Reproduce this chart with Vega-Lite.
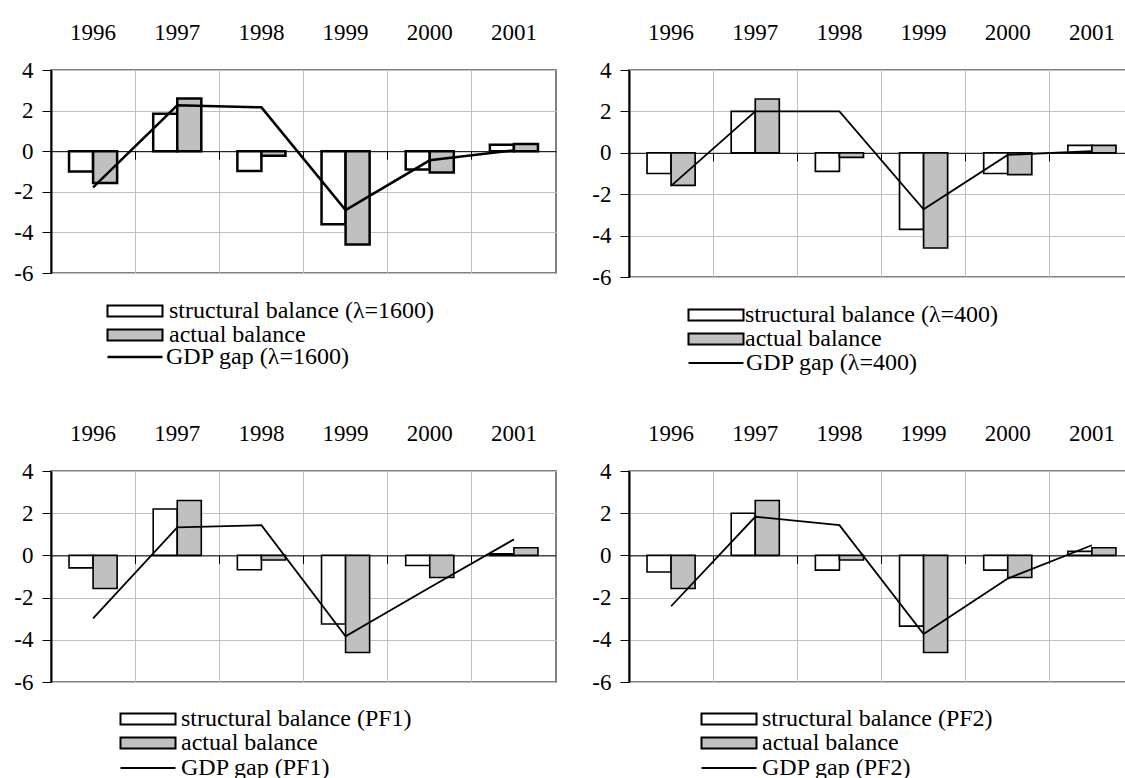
{
  "$schema": "https://vega.github.io/schema/vega-lite/v6.json",
  "padding": {"left": 12, "top": 20, "right": 0, "bottom": 0},
  "background": "white",
  "datasets": {
    "bars": [
      {"panel": "A", "year": "1996", "series": "structural balance (λ=1600)", "value": -1.0},
      {"panel": "A", "year": "1997", "series": "structural balance (λ=1600)", "value": 1.85},
      {"panel": "A", "year": "1998", "series": "structural balance (λ=1600)", "value": -0.98},
      {"panel": "A", "year": "1999", "series": "structural balance (λ=1600)", "value": -3.6},
      {"panel": "A", "year": "2000", "series": "structural balance (λ=1600)", "value": -0.9},
      {"panel": "A", "year": "2001", "series": "structural balance (λ=1600)", "value": 0.32},
      {"panel": "A", "year": "1996", "series": "actual balance", "value": -1.57},
      {"panel": "A", "year": "1997", "series": "actual balance", "value": 2.6},
      {"panel": "A", "year": "1998", "series": "actual balance", "value": -0.22},
      {"panel": "A", "year": "1999", "series": "actual balance", "value": -4.6},
      {"panel": "A", "year": "2000", "series": "actual balance", "value": -1.05},
      {"panel": "A", "year": "2001", "series": "actual balance", "value": 0.36},
      {"panel": "B", "year": "1996", "series": "structural balance (λ=400)", "value": -1.0},
      {"panel": "B", "year": "1997", "series": "structural balance (λ=400)", "value": 2.0},
      {"panel": "B", "year": "1998", "series": "structural balance (λ=400)", "value": -0.9},
      {"panel": "B", "year": "1999", "series": "structural balance (λ=400)", "value": -3.7},
      {"panel": "B", "year": "2000", "series": "structural balance (λ=400)", "value": -1.0},
      {"panel": "B", "year": "2001", "series": "structural balance (λ=400)", "value": 0.36},
      {"panel": "B", "year": "1996", "series": "actual balance", "value": -1.57},
      {"panel": "B", "year": "1997", "series": "actual balance", "value": 2.6},
      {"panel": "B", "year": "1998", "series": "actual balance", "value": -0.22},
      {"panel": "B", "year": "1999", "series": "actual balance", "value": -4.6},
      {"panel": "B", "year": "2000", "series": "actual balance", "value": -1.05},
      {"panel": "B", "year": "2001", "series": "actual balance", "value": 0.36},
      {"panel": "C", "year": "1996", "series": "structural balance (PF1)", "value": -0.59},
      {"panel": "C", "year": "1997", "series": "structural balance (PF1)", "value": 2.2},
      {"panel": "C", "year": "1998", "series": "structural balance (PF1)", "value": -0.68},
      {"panel": "C", "year": "1999", "series": "structural balance (PF1)", "value": -3.25},
      {"panel": "C", "year": "2000", "series": "structural balance (PF1)", "value": -0.48},
      {"panel": "C", "year": "2001", "series": "structural balance (PF1)", "value": 0.08},
      {"panel": "C", "year": "1996", "series": "actual balance", "value": -1.57},
      {"panel": "C", "year": "1997", "series": "actual balance", "value": 2.6},
      {"panel": "C", "year": "1998", "series": "actual balance", "value": -0.22},
      {"panel": "C", "year": "1999", "series": "actual balance", "value": -4.6},
      {"panel": "C", "year": "2000", "series": "actual balance", "value": -1.05},
      {"panel": "C", "year": "2001", "series": "actual balance", "value": 0.36},
      {"panel": "D", "year": "1996", "series": "structural balance (PF2)", "value": -0.79},
      {"panel": "D", "year": "1997", "series": "structural balance (PF2)", "value": 2.0},
      {"panel": "D", "year": "1998", "series": "structural balance (PF2)", "value": -0.7},
      {"panel": "D", "year": "1999", "series": "structural balance (PF2)", "value": -3.35},
      {"panel": "D", "year": "2000", "series": "structural balance (PF2)", "value": -0.7},
      {"panel": "D", "year": "2001", "series": "structural balance (PF2)", "value": 0.19},
      {"panel": "D", "year": "1996", "series": "actual balance", "value": -1.57},
      {"panel": "D", "year": "1997", "series": "actual balance", "value": 2.6},
      {"panel": "D", "year": "1998", "series": "actual balance", "value": -0.22},
      {"panel": "D", "year": "1999", "series": "actual balance", "value": -4.6},
      {"panel": "D", "year": "2000", "series": "actual balance", "value": -1.05},
      {"panel": "D", "year": "2001", "series": "actual balance", "value": 0.36}
    ],
    "gaps": [
      {"panel": "A", "year": "1996", "label": "GDP gap (λ=1600)", "gap": -1.78},
      {"panel": "A", "year": "1997", "label": "GDP gap (λ=1600)", "gap": 2.26},
      {"panel": "A", "year": "1998", "label": "GDP gap (λ=1600)", "gap": 2.16},
      {"panel": "A", "year": "1999", "label": "GDP gap (λ=1600)", "gap": -2.9},
      {"panel": "A", "year": "2000", "label": "GDP gap (λ=1600)", "gap": -0.45},
      {"panel": "A", "year": "2001", "label": "GDP gap (λ=1600)", "gap": 0.04},
      {"panel": "B", "year": "1996", "label": "GDP gap (λ=400)", "gap": -1.6},
      {"panel": "B", "year": "1997", "label": "GDP gap (λ=400)", "gap": 2.0},
      {"panel": "B", "year": "1998", "label": "GDP gap (λ=400)", "gap": 2.0},
      {"panel": "B", "year": "1999", "label": "GDP gap (λ=400)", "gap": -2.73},
      {"panel": "B", "year": "2000", "label": "GDP gap (λ=400)", "gap": -0.1},
      {"panel": "B", "year": "2001", "label": "GDP gap (λ=400)", "gap": 0.08},
      {"panel": "C", "year": "1996", "label": "GDP gap (PF1)", "gap": -2.98},
      {"panel": "C", "year": "1997", "label": "GDP gap (PF1)", "gap": 1.33},
      {"panel": "C", "year": "1998", "label": "GDP gap (PF1)", "gap": 1.43},
      {"panel": "C", "year": "1999", "label": "GDP gap (PF1)", "gap": -3.83},
      {"panel": "C", "year": "2000", "label": "GDP gap (PF1)", "gap": -1.52},
      {"panel": "C", "year": "2001", "label": "GDP gap (PF1)", "gap": 0.76},
      {"panel": "D", "year": "1996", "label": "GDP gap (PF2)", "gap": -2.41},
      {"panel": "D", "year": "1997", "label": "GDP gap (PF2)", "gap": 1.83},
      {"panel": "D", "year": "1998", "label": "GDP gap (PF2)", "gap": 1.43},
      {"panel": "D", "year": "1999", "label": "GDP gap (PF2)", "gap": -3.73},
      {"panel": "D", "year": "2000", "label": "GDP gap (PF2)", "gap": -1.1},
      {"panel": "D", "year": "2001", "label": "GDP gap (PF2)", "gap": 0.48}
    ]
  },
  "columns": 2,
  "spacing": {"row": 45, "column": 33},
  "concat": [
    {
      "width": 505, "height": 203,
      "layer": [
        {
          "data": {"name": "bars"},
          "transform": [{"filter": "datum.panel === 'A'"}],
          "mark": {"type": "bar", "stroke": "black", "strokeWidth": 2.5},
          "encoding": {
            "x": {"field": "year", "type": "nominal", "title": null,
              "scale": {"paddingInner": 0, "paddingOuter": 0},
              "axis": {"orient": "top", "labelAngle": 0, "ticks": false, "domain": false, "grid": false, "labelPadding": 31, "labelBaseline": "alphabetic"}},
            "xOffset": {"field": "series", "type": "nominal", "scale": {"domain": ["structural balance (λ=1600)", "actual balance"], "paddingInner": 0, "paddingOuter": 0.75}},
            "y": {"field": "value", "type": "quantitative", "title": null,
              "scale": {"domain": [-6, 4], "nice": false, "zero": false},
              "axis": {"values": [-6, -4, -2, 0, 2, 4], "labelExpr": "'' + datum.value", "domainColor": "black", "domainWidth": 2, "tickColor": "black", "tickSize": 9, "labelPadding": 9, "grid": true, "gridColor": "#c0c0c0"}},
            "fill": {"field": "series", "type": "nominal",
              "scale": {"domain": ["structural balance (λ=1600)", "actual balance"], "range": ["white", "#c0c0c0"]},
              "legend": {"orient": "none", "legendX": 72, "legendY": 229, "title": null, "symbolType": "M-5,-1H5V1H-5Z", "symbolSize": 121, "symbolStrokeColor": "black", "symbolStrokeWidth": 2, "labelOffset": 22, "rowPadding": 0, "padding": 0, "labelLimit": 0}}
          }
        },
        {
          "data": {"name": "gaps"},
          "transform": [{"filter": "datum.panel === 'A'"}],
          "mark": {"type": "line", "strokeWidth": 2.5},
          "encoding": {
            "x": {"field": "year", "type": "nominal", "title": null,
              "axis": {"orient": "bottom", "offset": -121.8, "labels": false, "grid": true, "gridColor": "#c0c0c0", "bandPosition": 0, "tickColor": "black", "tickSize": 8, "domainColor": "black", "domainWidth": 1}},
            "y": {"field": "gap", "type": "quantitative", "title": null},
            "stroke": {"field": "label", "type": "nominal", "scale": {"range": ["black"]},
              "legend": {"orient": "none", "legendX": 72, "legendY": 275, "title": null, "symbolType": "M-5,0H5", "symbolSize": 121, "symbolStrokeWidth": 2.5, "labelOffset": 19, "padding": 0, "labelLimit": 0}}
          }
        }
      ],
      "resolve": {"axis": {"x": "independent"}}
    },
    {
      "width": 505, "height": 207,
      "layer": [
        {
          "data": {"name": "bars"},
          "transform": [{"filter": "datum.panel === 'B'"}],
          "mark": {"type": "bar", "stroke": "black", "strokeWidth": 1.7},
          "encoding": {
            "x": {"field": "year", "type": "nominal", "title": null,
              "scale": {"paddingInner": 0, "paddingOuter": 0},
              "axis": {"orient": "top", "labelAngle": 0, "ticks": false, "domain": false, "grid": false, "labelPadding": 31, "labelBaseline": "alphabetic"}},
            "xOffset": {"field": "series", "type": "nominal", "scale": {"domain": ["structural balance (λ=400)", "actual balance"], "paddingInner": 0, "paddingOuter": 0.75}},
            "y": {"field": "value", "type": "quantitative", "title": null,
              "scale": {"domain": [-6, 4], "nice": false, "zero": false},
              "axis": {"values": [-6, -4, -2, 0, 2, 4], "labelExpr": "'' + datum.value", "domainColor": "black", "domainWidth": 2, "tickColor": "black", "tickSize": 9, "labelPadding": 9, "grid": true, "gridColor": "#c0c0c0"}},
            "fill": {"field": "series", "type": "nominal",
              "scale": {"domain": ["structural balance (λ=400)", "actual balance"], "range": ["white", "#c0c0c0"]},
              "legend": {"orient": "none", "legendX": 75, "legendY": 233, "title": null, "symbolType": "M-5,-1H5V1H-5Z", "symbolSize": 121, "symbolStrokeColor": "black", "symbolStrokeWidth": 2, "labelOffset": 17, "rowPadding": 0, "padding": 0, "labelLimit": 0}}
          }
        },
        {
          "data": {"name": "gaps"},
          "transform": [{"filter": "datum.panel === 'B'"}],
          "mark": {"type": "line", "strokeWidth": 1.8},
          "encoding": {
            "x": {"field": "year", "type": "nominal", "title": null,
              "axis": {"orient": "bottom", "offset": -124.2, "labels": false, "grid": true, "gridColor": "#c0c0c0", "bandPosition": 0, "tickColor": "black", "tickSize": 8, "domainColor": "black", "domainWidth": 1}},
            "y": {"field": "gap", "type": "quantitative", "title": null},
            "stroke": {"field": "label", "type": "nominal", "scale": {"range": ["black"]},
              "legend": {"orient": "none", "legendX": 75, "legendY": 281, "title": null, "symbolType": "M-5,0H5", "symbolSize": 121, "symbolStrokeWidth": 1.8, "labelOffset": 18, "padding": 0, "labelLimit": 0}}
          }
        }
      ],
      "resolve": {"axis": {"x": "independent"}}
    },
    {
      "width": 505, "height": 211,
      "layer": [
        {
          "data": {"name": "bars"},
          "transform": [{"filter": "datum.panel === 'C'"}],
          "mark": {"type": "bar", "stroke": "black", "strokeWidth": 1.6},
          "encoding": {
            "x": {"field": "year", "type": "nominal", "title": null,
              "scale": {"paddingInner": 0, "paddingOuter": 0},
              "axis": {"orient": "top", "labelAngle": 0, "ticks": false, "domain": false, "grid": false, "labelPadding": 31, "labelBaseline": "alphabetic"}},
            "xOffset": {"field": "series", "type": "nominal", "scale": {"domain": ["structural balance (PF1)", "actual balance"], "paddingInner": 0, "paddingOuter": 0.75}},
            "y": {"field": "value", "type": "quantitative", "title": null,
              "scale": {"domain": [-6, 4], "nice": false, "zero": false},
              "axis": {"values": [-6, -4, -2, 0, 2, 4], "labelExpr": "'' + datum.value", "domainColor": "black", "domainWidth": 2, "tickColor": "black", "tickSize": 9, "labelPadding": 9, "grid": true, "gridColor": "#c0c0c0"}},
            "fill": {"field": "series", "type": "nominal",
              "scale": {"domain": ["structural balance (PF1)", "actual balance"], "range": ["white", "#c0c0c0"]},
              "legend": {"orient": "none", "legendX": 85, "legendY": 236, "title": null, "symbolType": "M-5,-1H5V1H-5Z", "symbolSize": 121, "symbolStrokeColor": "black", "symbolStrokeWidth": 2, "labelOffset": 21, "rowPadding": 0, "padding": 0, "labelLimit": 0}}
          }
        },
        {
          "data": {"name": "gaps"},
          "transform": [{"filter": "datum.panel === 'C'"}],
          "mark": {"type": "line", "strokeWidth": 1.8},
          "encoding": {
            "x": {"field": "year", "type": "nominal", "title": null,
              "axis": {"orient": "bottom", "offset": -126.6, "labels": false, "grid": true, "gridColor": "#c0c0c0", "bandPosition": 0, "tickColor": "black", "tickSize": 8, "domainColor": "black", "domainWidth": 1}},
            "y": {"field": "gap", "type": "quantitative", "title": null},
            "stroke": {"field": "label", "type": "nominal", "scale": {"range": ["black"]},
              "legend": {"orient": "none", "legendX": 85, "legendY": 285, "title": null, "symbolType": "M-5,0H5", "symbolSize": 121, "symbolStrokeWidth": 1.8, "labelOffset": 21, "padding": 0, "labelLimit": 0}}
          }
        }
      ],
      "resolve": {"axis": {"x": "independent"}}
    },
    {
      "width": 505, "height": 211,
      "layer": [
        {
          "data": {"name": "bars"},
          "transform": [{"filter": "datum.panel === 'D'"}],
          "mark": {"type": "bar", "stroke": "black", "strokeWidth": 1.6},
          "encoding": {
            "x": {"field": "year", "type": "nominal", "title": null,
              "scale": {"paddingInner": 0, "paddingOuter": 0},
              "axis": {"orient": "top", "labelAngle": 0, "ticks": false, "domain": false, "grid": false, "labelPadding": 31, "labelBaseline": "alphabetic"}},
            "xOffset": {"field": "series", "type": "nominal", "scale": {"domain": ["structural balance (PF2)", "actual balance"], "paddingInner": 0, "paddingOuter": 0.75}},
            "y": {"field": "value", "type": "quantitative", "title": null,
              "scale": {"domain": [-6, 4], "nice": false, "zero": false},
              "axis": {"values": [-6, -4, -2, 0, 2, 4], "labelExpr": "'' + datum.value", "domainColor": "black", "domainWidth": 2, "tickColor": "black", "tickSize": 9, "labelPadding": 9, "grid": true, "gridColor": "#c0c0c0"}},
            "fill": {"field": "series", "type": "nominal",
              "scale": {"domain": ["structural balance (PF2)", "actual balance"], "range": ["white", "#c0c0c0"]},
              "legend": {"orient": "none", "legendX": 88, "legendY": 236, "title": null, "symbolType": "M-5,-1H5V1H-5Z", "symbolSize": 121, "symbolStrokeColor": "black", "symbolStrokeWidth": 2, "labelOffset": 21, "rowPadding": 0, "padding": 0, "labelLimit": 0}}
          }
        },
        {
          "data": {"name": "gaps"},
          "transform": [{"filter": "datum.panel === 'D'"}],
          "mark": {"type": "line", "strokeWidth": 1.8},
          "encoding": {
            "x": {"field": "year", "type": "nominal", "title": null,
              "axis": {"orient": "bottom", "offset": -126.6, "labels": false, "grid": true, "gridColor": "#c0c0c0", "bandPosition": 0, "tickColor": "black", "tickSize": 8, "domainColor": "black", "domainWidth": 1}},
            "y": {"field": "gap", "type": "quantitative", "title": null},
            "stroke": {"field": "label", "type": "nominal", "scale": {"range": ["black"]},
              "legend": {"orient": "none", "legendX": 88, "legendY": 285, "title": null, "symbolType": "M-5,0H5", "symbolSize": 121, "symbolStrokeWidth": 1.8, "labelOffset": 21, "padding": 0, "labelLimit": 0}}
          }
        }
      ],
      "resolve": {"axis": {"x": "independent"}}
    }
  ],
  "resolve": {"scale": {"fill": "independent", "stroke": "independent", "xOffset": "independent", "x": "independent", "y": "independent"}},
  "config": {
    "font": "Liberation Serif",
    "view": {"stroke": "#808080", "strokeWidth": 2},
    "axis": {"labelFont": "Liberation Serif", "labelFontSize": 23, "labelColor": "black"},
    "legend": {"labelFont": "Liberation Serif", "labelFontSize": 24, "labelColor": "black"}
  }
}
